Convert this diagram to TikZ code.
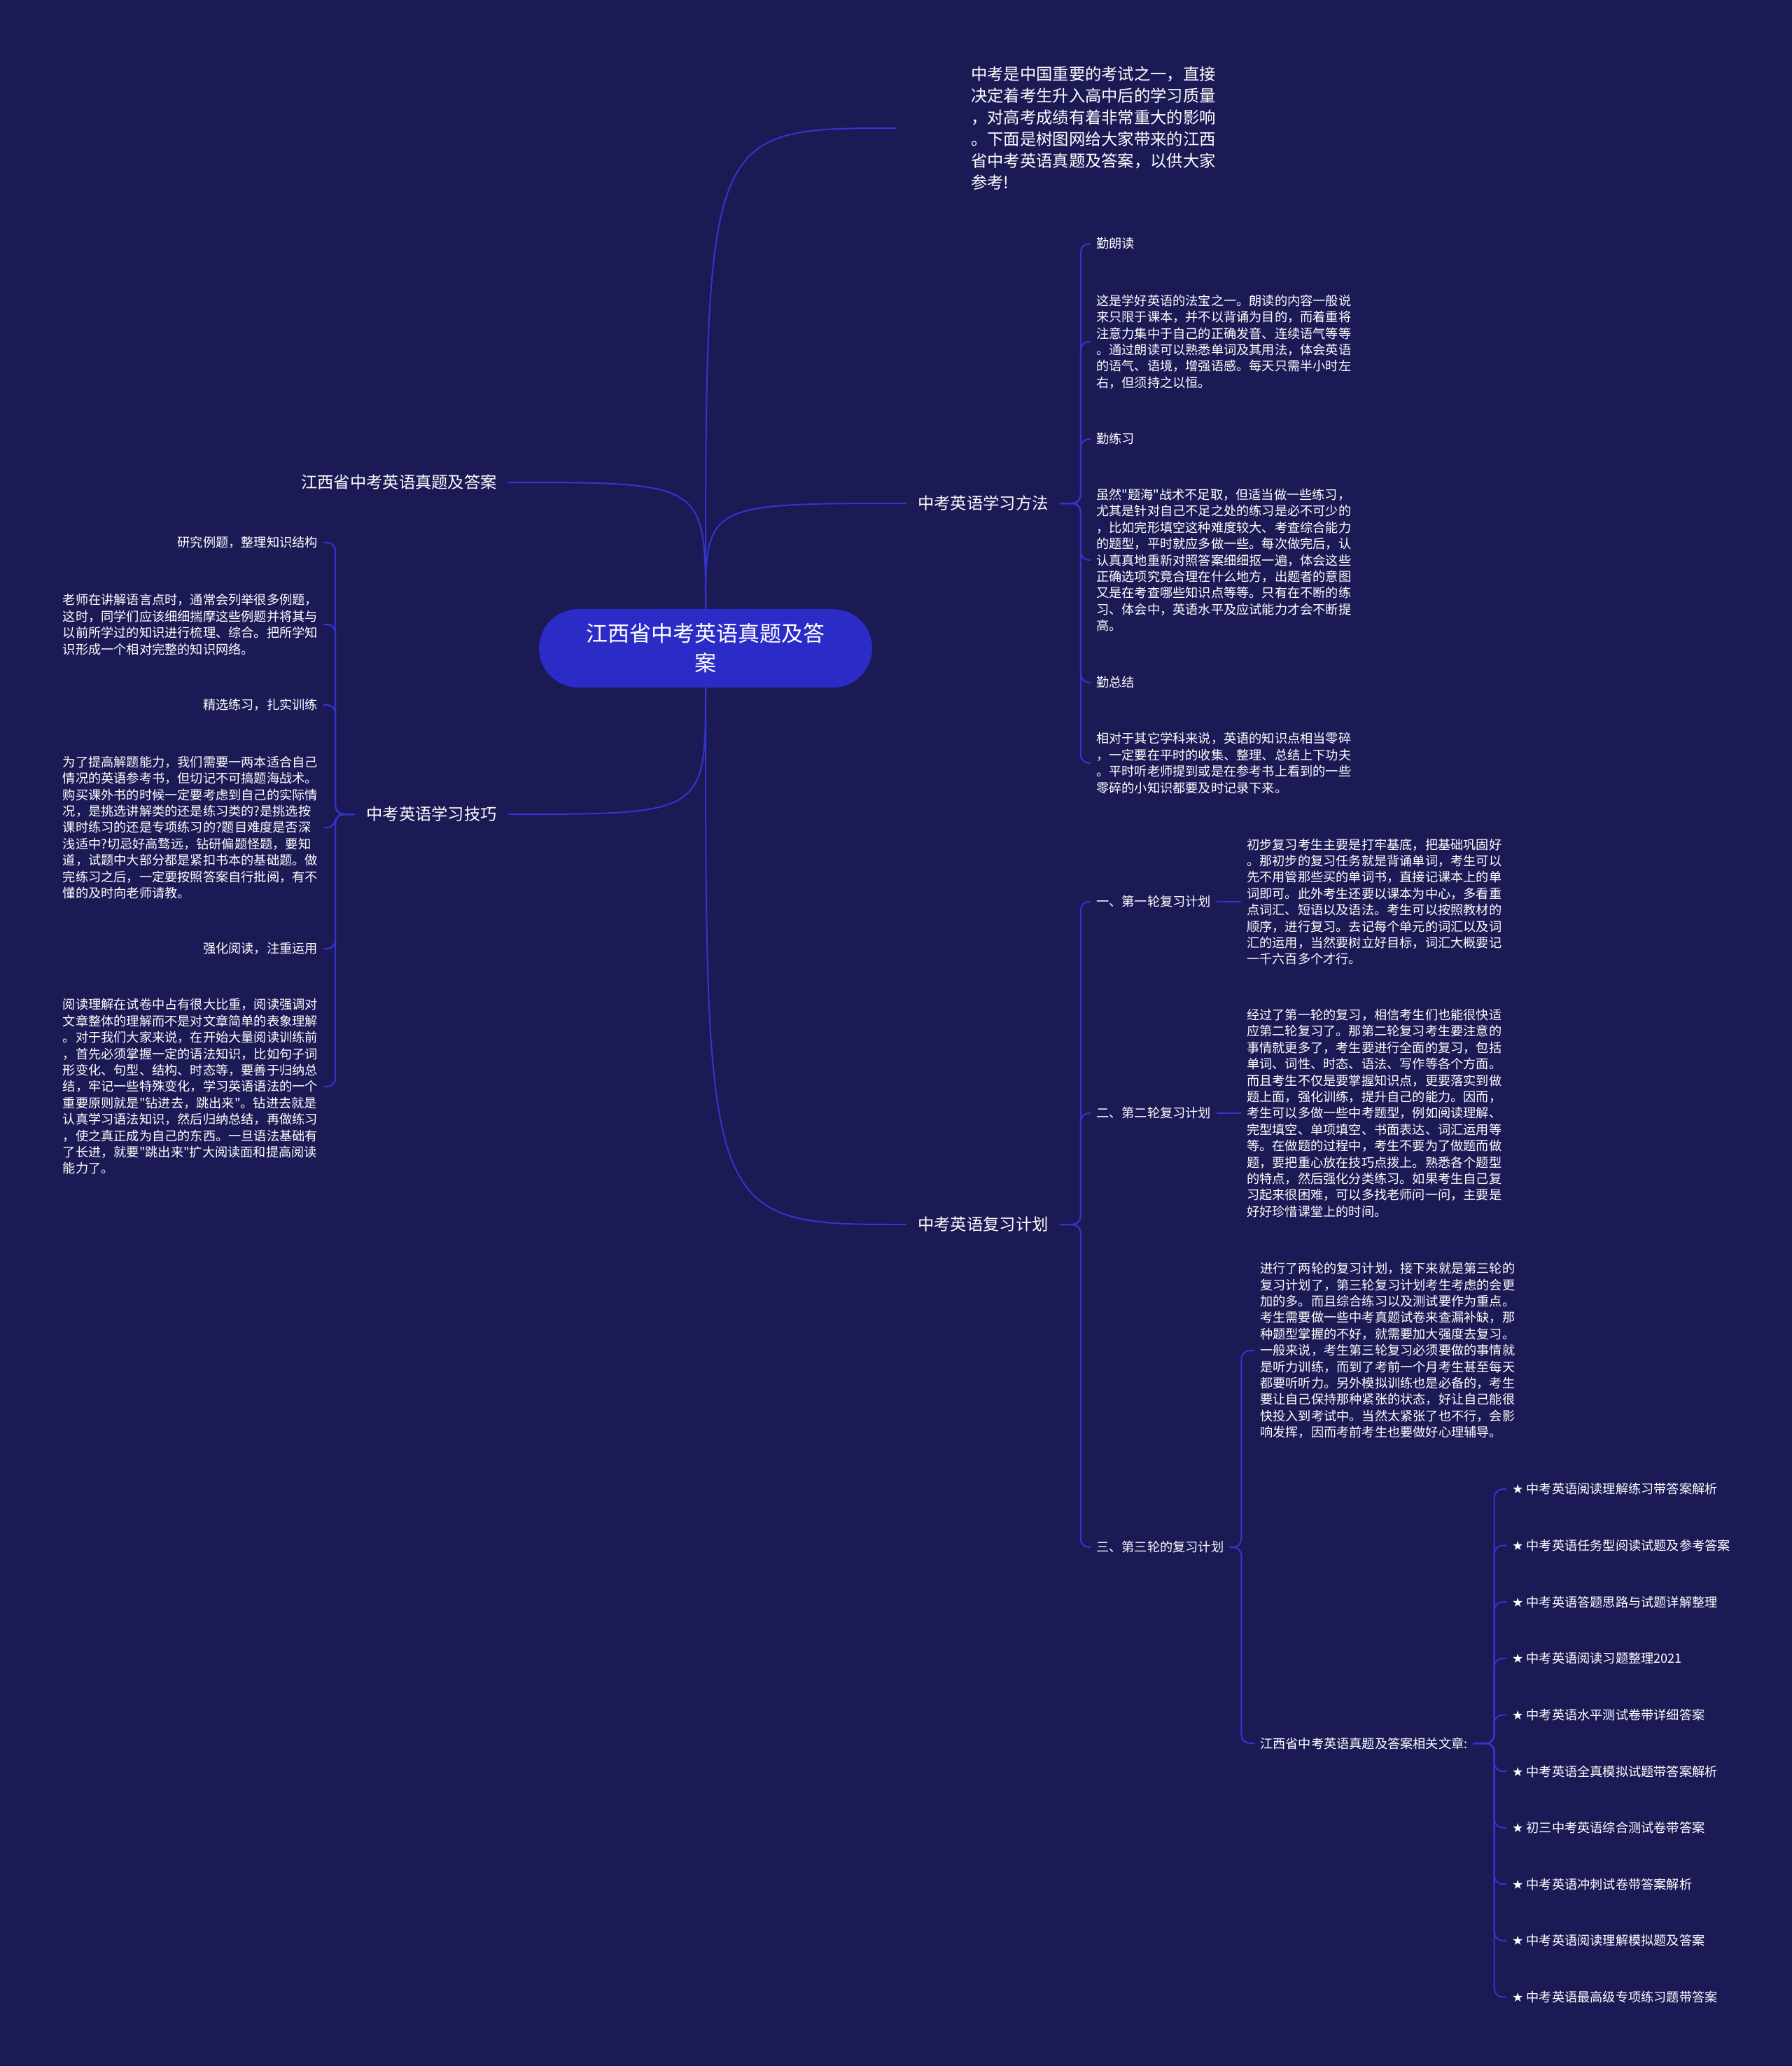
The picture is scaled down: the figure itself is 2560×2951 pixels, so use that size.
\documentclass[tikz,border=0pt]{standalone}
\usepackage{fontspec}
\setmainfont{Noto Sans CJK SC}
\newfontfamily\cjk{Noto Sans CJK SC}
\newfontfamily\starfont{DejaVu Sans}
\definecolor{bgnavy}{HTML}{1B1A55}
\definecolor{linkblue}{HTML}{3434D2}
\definecolor{boxblue}{HTML}{2B2BC8}

\begin{document}
\begin{tikzpicture}[x=1pt, y=-1pt,
    centerbox/.style={fill=boxblue, rounded corners=56pt, minimum width=476pt, minimum height=112pt,
      text=white, align=center, font=\cjk\fontsize{31}{42}\selectfont},
    mainlabel/.style={text=white, inner xsep=16pt, inner ysep=4pt, font=\cjk\fontsize{23.3}{31}\selectfont},
    sublabel/.style={text=white, inner xsep=8pt, inner ysep=3pt, font=\cjk\fontsize{18.2}{23.4}\selectfont},
    bodytext/.style={sublabel, align=left},
    branch/.style={draw=linkblue, line width=2pt},
    bracket/.style={branch, rounded corners=12pt}]
    % --- 背景 ---
    \fill[bgnavy] (0,0) rectangle (2560,2951);
    \useasboundingbox (0,0) rectangle (2560,2951);

    % --- 中心主题 ---
    \node[centerbox] (zhuti) at (1008,926) {江西省中考英语真题及答\\案};

    % --- 一级分支 ---
    \node[mainlabel, align=left, inner xsep=107pt, anchor=west] (intro) at (1280,183) {中考是中国重要的考试之一，直接\\
      决定着考生升入高中后的学习质量\\
      ，对高考成绩有着非常重大的影响\\
      。下面是树图网给大家带来的江西\\
      省中考英语真题及答案，以供大家\\
      参考!};
    \node[mainlabel, anchor=east] (title) at (726,689) {江西省中考英语真题及答案};
    \node[mainlabel, anchor=west] (fangfa) at (1295,719) {中考英语学习方法};
    \node[mainlabel, anchor=east] (jiqiao) at (726,1163) {中考英语学习技巧};
    \node[mainlabel, anchor=west] (jihua) at (1295,1749) {中考英语复习计划};

    \draw[branch] (zhuti.north) .. controls (zhuti.north |- intro.west) .. (intro.west);
    \draw[branch] (zhuti.north) .. controls (zhuti.north |- title.east) .. (title.east);
    \draw[branch] (zhuti.north) .. controls (zhuti.north |- fangfa.west) .. (fangfa.west);
    \draw[branch] (zhuti.south) .. controls (zhuti.south |- jiqiao.east) .. (jiqiao.east);
    \draw[branch] (zhuti.south) .. controls (zhuti.south |- jihua.west) .. (jihua.west);

    % --- 学习方法 ---
    \node[sublabel, anchor=west] (langdu) at (1558,348) {勤朗读};
    \node[bodytext, anchor=west] (langdu-t) at (1558,488) {这是学好英语的法宝之一。朗读的内容一般说\\
      来只限于课本，并不以背诵为目的，而着重将\\
      注意力集中于自己的正确发音、连续语气等等\\
      。通过朗读可以熟悉单词及其用法，体会英语\\
      的语气、语境，增强语感。每天只需半小时左\\
      右，但须持之以恒。};
    \node[sublabel, anchor=west] (lianxi) at (1558,627) {勤练习};
    \node[bodytext, anchor=west] (lianxi-t) at (1558,800) {虽然"题海"战术不足取，但适当做一些练习，\\
      尤其是针对自己不足之处的练习是必不可少的\\
      ，比如完形填空这种难度较大、考查综合能力\\
      的题型，平时就应多做一些。每次做完后，认\\
      认真真地重新对照答案细细抠一遍，体会这些\\
      正确选项究竟合理在什么地方，出题者的意图\\
      又是在考查哪些知识点等等。只有在不断的练\\
      习、体会中，英语水平及应试能力才会不断提\\
      高。};
    \node[sublabel, anchor=west] (zongjie) at (1558,975) {勤总结};
    \node[bodytext, anchor=west] (zongjie-t) at (1558,1090) {相对于其它学科来说，英语的知识点相当零碎\\
      ，一定要在平时的收集、整理、总结上下功夫\\
      。平时听老师提到或是在参考书上看到的一些\\
      零碎的小知识都要及时记录下来。};
    \foreach \c in {langdu, langdu-t, lianxi, lianxi-t, zongjie, zongjie-t}
      \draw[bracket] (fangfa.east) -- ++(30,0) |- (\c.west);

    % --- 学习技巧 ---
    \node[sublabel, anchor=east] (liti) at (462,775) {研究例题，整理知识结构};
    \node[bodytext, anchor=east] (liti-t) at (462,892) {老师在讲解语言点时，通常会列举很多例题，\\
      这时，同学们应该细细揣摩这些例题并将其与\\
      以前所学过的知识进行梳理、综合。把所学知\\
      识形成一个相对完整的知识网络。};
    \node[sublabel, anchor=east] (jingxuan) at (462,1007) {精选练习，扎实训练};
    \node[bodytext, anchor=east] (jingxuan-t) at (462,1182) {为了提高解题能力，我们需要一两本适合自己\\
      情况的英语参考书，但切记不可搞题海战术。\\
      购买课外书的时候一定要考虑到自己的实际情\\
      况，是挑选讲解类的还是练习类的?是挑选按\\
      课时练习的还是专项练习的?题目难度是否深\\
      浅适中?切忌好高骛远，钻研偏题怪题，要知\\
      道，试题中大部分都是紧扣书本的基础题。做\\
      完练习之后，一定要按照答案自行批阅，有不\\
      懂的及时向老师请教。};
    \node[sublabel, anchor=east] (yuedu) at (462,1355) {强化阅读，注重运用};
    \node[bodytext, anchor=east] (yuedu-t) at (462,1552) {阅读理解在试卷中占有很大比重，阅读强调对\\
      文章整体的理解而不是对文章简单的表象理解\\
      。对于我们大家来说，在开始大量阅读训练前\\
      ，首先必须掌握一定的语法知识，比如句子词\\
      形变化、句型、结构、时态等，要善于归纳总\\
      结，牢记一些特殊变化，学习英语语法的一个\\
      重要原则就是"钻进去，跳出来"。钻进去就是\\
      认真学习语法知识，然后归纳总结，再做练习\\
      ，使之真正成为自己的东西。一旦语法基础有\\
      了长进，就要"跳出来"扩大阅读面和提高阅读\\
      能力了。};
    \foreach \c in {liti, liti-t, jingxuan, jingxuan-t, yuedu, yuedu-t}
      \draw[bracket] (jiqiao.west) -- ++(-28,0) |- (\c.east);

    % --- 复习计划 ---
    \node[sublabel, anchor=west] (lun1) at (1558,1288) {一、第一轮复习计划};
    \node[sublabel, anchor=west] (lun2) at (1558,1590) {二、第二轮复习计划};
    \node[sublabel, anchor=west] (lun3) at (1558,2210) {三、第三轮的复习计划};
    \foreach \c in {lun1, lun2, lun3}
      \draw[bracket] (jihua.east) -- ++(30,0) |- (\c.west);

    \node[bodytext, anchor=west] (lun1-t) at (1773,1288) {初步复习考生主要是打牢基底，把基础巩固好\\
      。那初步的复习任务就是背诵单词，考生可以\\
      先不用管那些买的单词书，直接记课本上的单\\
      词即可。此外考生还要以课本为中心，多看重\\
      点词汇、短语以及语法。考生可以按照教材的\\
      顺序，进行复习。去记每个单元的词汇以及词\\
      汇的运用，当然要树立好目标，词汇大概要记\\
      一千六百多个才行。};
    \draw[branch] (lun1.east) -- (lun1-t.west);
    \node[bodytext, anchor=west] (lun2-t) at (1773,1590) {经过了第一轮的复习，相信考生们也能很快适\\
      应第二轮复习了。那第二轮复习考生要注意的\\
      事情就更多了，考生要进行全面的复习，包括\\
      单词、词性、时态、语法、写作等各个方面。\\
      而且考生不仅是要掌握知识点，更要落实到做\\
      题上面，强化训练，提升自己的能力。因而，\\
      考生可以多做一些中考题型，例如阅读理解、\\
      完型填空、单项填空、书面表达、词汇运用等\\
      等。在做题的过程中，考生不要为了做题而做\\
      题，要把重心放在技巧点拨上。熟悉各个题型\\
      的特点，然后强化分类练习。如果考生自己复\\
      习起来很困难，可以多找老师问一问，主要是\\
      好好珍惜课堂上的时间。};
    \draw[branch] (lun2.east) -- (lun2-t.west);

    \node[bodytext, anchor=west] (lun3-t) at (1792,1929) {进行了两轮的复习计划，接下来就是第三轮的\\
      复习计划了，第三轮复习计划考生考虑的会更\\
      加的多。而且综合练习以及测试要作为重点。\\
      考生需要做一些中考真题试卷来查漏补缺，那\\
      种题型掌握的不好，就需要加大强度去复习。\\
      一般来说，考生第三轮复习必须要做的事情就\\
      是听力训练，而到了考前一个月考生甚至每天\\
      都要听听力。另外模拟训练也是必备的，考生\\
      要让自己保持那种紧张的状态，好让自己能很\\
      快投入到考试中。当然太紧张了也不行，会影\\
      响发挥，因而考前考生也要做好心理辅导。};
    \node[sublabel, anchor=west] (wenzhang) at (1792,2490) {江西省中考英语真题及答案相关文章:};
    \foreach \c in {lun3-t, wenzhang}
      \draw[bracket] (lun3.east) -- ++(17,0) |- (\c.west);

    % --- 相关文章 ---
    \foreach \t [count=\i] in {中考英语阅读理解练习带答案解析, 中考英语任务型阅读试题及参考答案,
        中考英语答题思路与试题详解整理, 中考英语阅读习题整理2021, 中考英语水平测试卷带详细答案,
        中考英语全真模拟试题带答案解析, 初三中考英语综合测试卷带答案, 中考英语冲刺试卷带答案解析,
        中考英语阅读理解模拟题及答案, 中考英语最高级专项练习题带答案} {
      \node[sublabel, anchor=west] (art\i) at (2152,{2127+80.6*(\i-1)}) {{\starfont ★} \t};
      \draw[bracket] (wenzhang.east) -- ++(30,0) |- (art\i.west);
    }
\end{tikzpicture}
\end{document}
